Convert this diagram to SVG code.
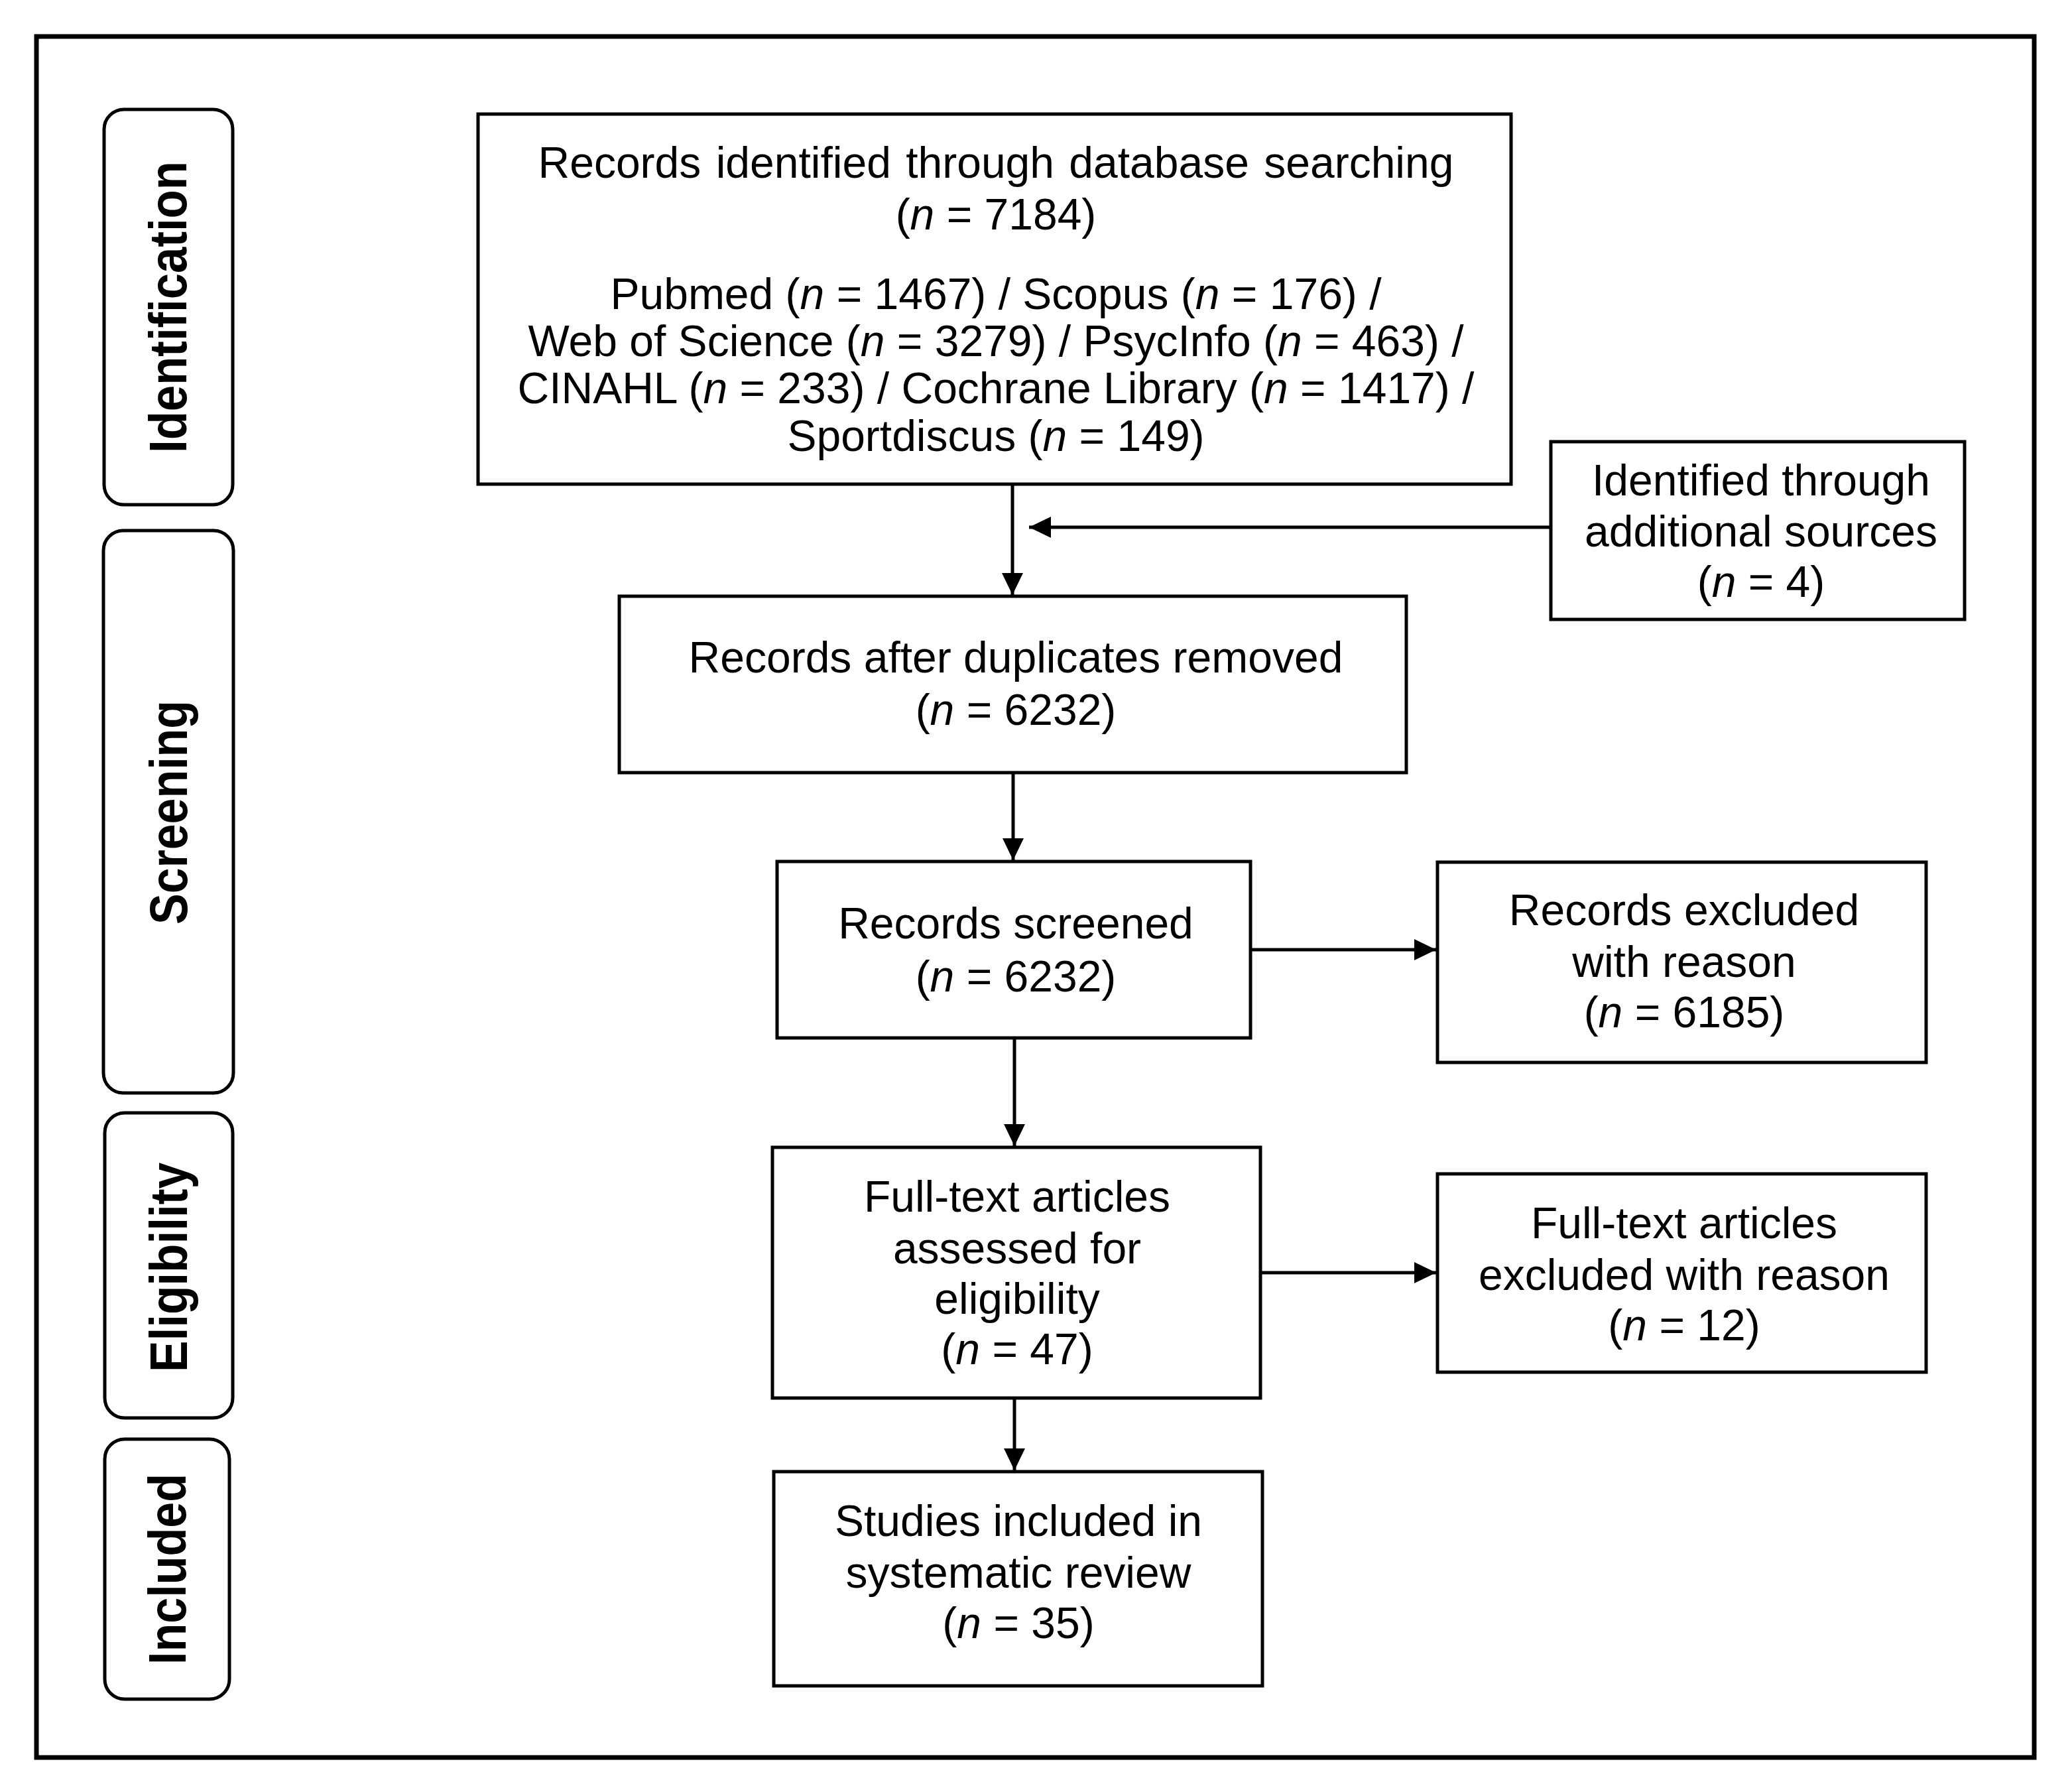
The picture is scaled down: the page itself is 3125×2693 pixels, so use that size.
<svg xmlns="http://www.w3.org/2000/svg" width="3125" height="2693" viewBox="0 0 3125 2693">
<style>
.box{fill:#fff;stroke:#000;stroke-width:5}
.phase{fill:#fff;stroke:#000;stroke-width:5}
.t{font-family:"Liberation Sans",Arial,sans-serif;font-size:66px;text-anchor:middle;fill:#000}
.p{font-family:"Liberation Sans",Arial,sans-serif;font-size:80px;font-weight:bold;text-anchor:middle;fill:#000}
.c{stroke:#000;stroke-width:5;fill:none}
.i{font-style:italic}
</style>
<defs>
<marker id="ah" markerUnits="userSpaceOnUse" markerWidth="34" markerHeight="34" refX="33" refY="16" orient="auto">
<path d="M0,0 L33,16 L0,32 z" fill="#000"/>
</marker>
</defs>
<rect x="0" y="0" width="3125" height="2693" fill="#fff"/>
<rect id="frame" x="55" y="55" width="3013" height="2595" fill="none" stroke="#000" stroke-width="7"/>

<g id="phase-identification">
<rect class="phase" x="157" y="165" width="194" height="596" rx="30"/>
<text class="p" transform="translate(281,463) rotate(-90)" textLength="440" lengthAdjust="spacingAndGlyphs">Identification</text>
</g>
<g id="phase-screening">
<rect class="phase" x="156" y="800" width="196" height="848" rx="30"/>
<text class="p" transform="translate(282,1225) rotate(-90)" textLength="338" lengthAdjust="spacingAndGlyphs">Screening</text>
</g>
<g id="phase-eligibility">
<rect class="phase" x="158" y="1678" width="193" height="460" rx="30"/>
<text class="p" transform="translate(282,1911) rotate(-90)" textLength="316" lengthAdjust="spacingAndGlyphs">Eligibility</text>
</g>
<g id="phase-included">
<rect class="phase" x="158" y="2170" width="188" height="392" rx="30"/>
<text class="p" transform="translate(280,2366) rotate(-90)" textLength="288" lengthAdjust="spacingAndGlyphs">Included</text>
</g>

<g id="n-database">
<rect class="box" x="721" y="172" width="1558" height="558"/>
<text class="t" x="1502" y="268" word-spacing="4">Records identified through database searching</text>
<text class="t" x="1502" y="346">(<tspan class="i">n</tspan> = 7184)</text>
<text class="t" x="1502" y="466">Pubmed (<tspan class="i">n</tspan> = 1467) / Scopus (<tspan class="i">n</tspan> = 176) /</text>
<text class="t" x="1502" y="537">Web of Science (<tspan class="i">n</tspan> = 3279) / PsycInfo (<tspan class="i">n</tspan> = 463) /</text>
<text class="t" x="1502" y="608">CINAHL (<tspan class="i">n</tspan> = 233) / Cochrane Library (<tspan class="i">n</tspan> = 1417) /</text>
<text class="t" x="1502" y="680">Sportdiscus (<tspan class="i">n</tspan> = 149)</text>
</g>

<g id="n-additional">
<rect class="box" x="2339" y="666" width="624" height="268"/>
<text class="t" x="2656" y="747">Identified through</text>
<text class="t" x="2656" y="824">additional sources</text>
<text class="t" x="2656" y="900">(<tspan class="i">n</tspan> = 4)</text>
</g>

<g id="n-duplicates">
<rect class="box" x="934" y="899" width="1187" height="266"/>
<text class="t" x="1532" y="1014">Records after duplicates removed</text>
<text class="t" x="1532" y="1093">(<tspan class="i">n</tspan> = 6232)</text>
</g>

<g id="n-screened">
<rect class="box" x="1172" y="1299" width="714" height="266"/>
<text class="t" x="1532" y="1415">Records screened</text>
<text class="t" x="1532" y="1495">(<tspan class="i">n</tspan> = 6232)</text>
</g>

<g id="n-excluded">
<rect class="box" x="2168" y="1300" width="737" height="302"/>
<text class="t" x="2540" y="1395">Records excluded</text>
<text class="t" x="2540" y="1473">with reason</text>
<text class="t" x="2540" y="1549">(<tspan class="i">n</tspan> = 6185)</text>
</g>

<g id="n-fulltext">
<rect class="box" x="1165" y="1730" width="736" height="378"/>
<text class="t" x="1534" y="1827">Full-text articles</text>
<text class="t" x="1534" y="1905">assessed for</text>
<text class="t" x="1534" y="1981">eligibility</text>
<text class="t" x="1534" y="2057">(<tspan class="i">n</tspan> = 47)</text>
</g>

<g id="n-fulltext-excluded">
<rect class="box" x="2168" y="1770" width="737" height="299"/>
<text class="t" x="2540" y="1867">Full-text articles</text>
<text class="t" x="2540" y="1945">excluded with reason</text>
<text class="t" x="2540" y="2021">(<tspan class="i">n</tspan> = 12)</text>
</g>

<g id="n-included">
<rect class="box" x="1167" y="2219" width="737" height="323"/>
<text class="t" x="1536" y="2316">Studies included in</text>
<text class="t" x="1536" y="2394">systematic review</text>
<text class="t" x="1536" y="2470">(<tspan class="i">n</tspan> = 35)</text>
</g>

<g id="connectors">
<line class="c" x1="1527" y1="732" x2="1527" y2="897" marker-end="url(#ah)"/>
<line class="c" x1="2337" y1="795" x2="1552" y2="795" marker-end="url(#ah)"/>
<line class="c" x1="1528" y1="1167" x2="1528" y2="1297" marker-end="url(#ah)"/>
<line class="c" x1="1888" y1="1432" x2="2166" y2="1432" marker-end="url(#ah)"/>
<line class="c" x1="1530" y1="1567" x2="1530" y2="1728" marker-end="url(#ah)"/>
<line class="c" x1="1903" y1="1919" x2="2166" y2="1919" marker-end="url(#ah)"/>
<line class="c" x1="1530" y1="2110" x2="1530" y2="2217" marker-end="url(#ah)"/>
</g>
</svg>
